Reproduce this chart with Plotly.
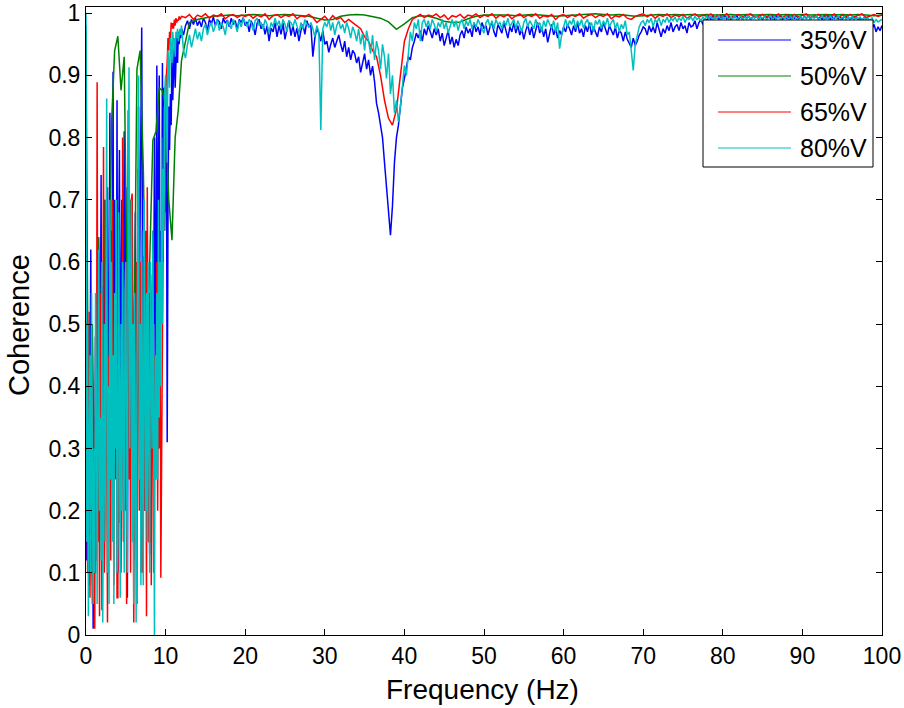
import numpy as np
import plotly.graph_objects as go

# Coherence values are listed in thousandths (e.g. 985 -> 0.985).

# Frequency grids (Hz)
f_low = np.round(np.arange(0.0, 12.0001, 0.1), 2)        # 0 .. 12 Hz, 0.1 Hz bins
f_high_q = np.round(np.arange(12.25, 100.0001, 0.25), 2)  # 12.25 .. 100 Hz, 0.25 Hz bins
f_high_h = np.round(np.arange(12.5, 100.0001, 0.5), 2)    # 12.5 .. 100 Hz, 0.5 Hz bins
f_green_low = np.round(np.arange(0.0, 12.0001, 0.4), 2)
f_green_high = np.arange(13.0, 100.0001, 1.0)

# ---- 35%V ----
blue_low = [250, 120, 400, 210, 500, 380, 620, 150, 300, 10,
            350, 220, 480, 120, 520, 300, 610, 200, 450, 740,
            80, 560, 330, 700, 180, 650, 420, 720, 150, 600,
            840, 400, 650, 500, 906, 250, 700, 520, 380, 860,
            100, 620, 780, 350, 560, 700, 300, 550, 810, 200,
            720, 450, 60, 600, 380, 650, 300, 550, 700, 420,
            120, 500, 680, 250, 580, 400, 850, 520, 720, 960,
            977, 600, 450, 610, 200, 480, 300, 600, 420, 550,
            130, 580, 470, 350, 650, 500, 800, 380, 620, 916,
            550, 750, 900, 480, 650, 560, 920, 600, 880, 700,
            680, 850, 310, 680, 850, 780, 870, 820, 930, 860,
            900, 950, 880, 930, 960, 920, 970, 950, 965, 960,
            975]
blue_high = [965, 980, 988, 975, 990, 982, 992, 980,
             988, 978, 992, 985, 972, 990, 983, 994,
             980, 990, 986, 975, 992, 984, 989, 978,
             992, 982, 988, 974, 990, 985, 993, 980,
             986, 970, 988, 980, 965, 984, 990, 975,
             982, 966, 980, 955, 976, 970, 985, 962,
             980, 966, 984, 958, 975, 988, 964, 980,
             962, 976, 955, 972, 982, 966, 988, 978,
             980, 930, 960, 975, 968, 955, 972, 950,
             955, 937, 950, 960, 945, 955, 965, 950,
             938, 955, 930, 945, 925, 940, 935, 920,
             930, 905, 920, 935, 910, 925, 900, 915,
             890, 855, 840, 820, 800, 760, 720, 680,
             643, 690, 760, 800, 820, 850, 880, 895,
             910, 930, 925, 945, 955, 968, 960, 972,
             955, 975, 965, 980, 970, 960, 975, 965,
             975, 955, 968, 948, 960, 972, 950, 962,
             945, 958, 948, 965, 972, 960, 978, 968,
             975, 962, 985, 970, 978, 965, 985, 975,
             980, 965, 978, 985, 970, 962, 982, 975,
             968, 985, 972, 960, 978, 970, 985, 968,
             980, 965, 975, 958, 972, 982, 965, 978,
             960, 975, 985, 968, 978, 962, 975, 953,
             970, 982, 965, 975, 960, 972, 965, 978,
             970, 982, 975, 965, 980, 970, 985, 968,
             975, 962, 980, 970, 985, 965, 978, 970,
             962, 978, 970, 985, 975, 965, 980, 972,
             965, 978, 960, 972, 968, 955, 970, 958,
             950, 945, 960, 948, 955, 965, 970, 978,
             975, 965, 980, 970, 978, 968, 985, 972,
             962, 975, 968, 980, 972, 985, 970, 978,
             982, 972, 985, 975, 980, 968, 985, 978,
             980, 988, 975, 985, 990, 982, 992, 988,
             994, 990, 996, 992, 995, 990, 994, 992,
             996, 991, 994, 990, 995, 993, 996, 991,
             994, 990, 996, 992, 995, 990, 994, 993,
             996, 991, 994, 990, 995, 992, 996, 991,
             994, 990, 995, 993, 996, 990, 994, 992,
             995, 990, 994, 992, 996, 991, 994, 990,
             995, 992, 996, 990, 994, 993, 995, 991,
             994, 990, 996, 992, 995, 990, 994, 992,
             996, 991, 994, 990, 995, 992, 994, 990,
             993, 991, 994, 990, 992, 988, 993, 990,
             985, 978, 975, 982, 970, 978, 972, 980]

# ---- 50%V ----
green_low = [980, 80, 500, 100, 640, 350, 700, 300, 820, 940,
             963, 876, 930, 500, 700, 415, 910, 940, 750, 450,
             600, 796, 810, 880, 875, 850, 700, 635, 800, 845,
             924]
green_high = [985, 990, 993, 995, 996, 997, 996, 997, 998, 997,
              996, 997, 998, 997, 996, 995, 992, 989, 990, 995,
              997, 998, 997, 995, 992, 986, 974, 983, 993, 996,
              995, 992, 987, 985, 986, 991, 995, 997,
              997, 998, 997, 996, 997, 998, 997, 996, 995, 996,
              997, 998, 999, 999, 998, 997, 998, 997, 995, 996,
              997, 998, 997, 998, 997, 998, 997, 998, 997, 998,
              998, 997, 998, 997, 998, 998, 997, 998, 997, 998,
              997, 998, 998, 997, 998, 997, 998, 997, 996, 997]

# ---- 65%V ----
red_low = [200, 450, 100, 350, 520, 60, 300, 150, 50, 400,
           250, 10, 480, 120, 889, 150, 420, 30, 550, 200,
           40, 380, 785, 100, 200, 600, 350, 20, 450, 150,
           450, 120, 520, 700, 300, 80, 550, 250, 600, 60,
           60, 650, 180, 420, 100, 300, 800, 150, 300, 550,
           600, 50, 350, 844, 250, 500, 100, 700, 710, 180,
           20, 450, 150, 600, 50, 750, 350, 200, 600, 100,
           600, 100, 380, 500, 200, 650, 30, 720, 350, 150,
           150, 550, 80, 400, 620, 100, 450, 250, 500, 600,
           200, 480, 300, 550, 92, 250, 550, 700, 850, 650,
           800, 900, 920, 960, 940, 970, 950, 985, 975, 984,
           975, 990, 980, 992, 985, 990, 988, 995, 990, 993,
           995]
red_high = [993, 998, 990, 997, 994, 999, 992, 997, 995, 999, 991, 996, 998, 993, 997, 995,
            998, 992, 997, 994, 999, 990, 996, 998, 993, 997, 995, 999, 991, 996, 994, 998,
            993, 985, 990, 995, 988, 996, 990, 993, 985, 990,
            985, 980, 975, 962, 955, 940, 930, 900, 860, 831,
            820, 845, 900, 955, 975, 990, 994, 998, 993, 997,
            995, 999, 993, 997, 990, 996, 994, 998, 992, 997, 995, 999, 993, 997,
            995, 999, 992, 997, 994, 998, 991, 996, 999, 993,
            997, 995, 999, 992, 996, 994, 998, 990, 996, 998,
            993, 997, 995, 999, 992, 996, 998, 993, 997, 995,
            999, 991, 996, 994, 998, 992, 990, 995, 997, 999,
            994, 998, 992, 997, 995, 999, 993, 997, 995, 998, 992, 996, 999, 994,
            997, 995, 999, 993, 997, 995, 999, 992, 996, 998,
            994, 997, 999, 993, 996, 998, 994, 997, 995, 999,
            993, 997, 995, 998, 994, 997, 999, 993, 996, 998,
            994, 997, 995, 999, 993, 997, 995, 998, 994, 997,
            999, 993, 996, 998, 995, 997]

# ---- 80%V ----
cyan_low = [1000, 150, 500, 30, 300, 450, 100, 550, 250, 50,
            300, 100, 550, 400, 50, 450, 620, 200, 350, 120,
            600, 20, 300, 500, 150, 700, 863, 100, 400, 50,
            700, 250, 600, 150, 450, 50, 550, 300, 700, 100,
            150, 680, 400, 60, 500, 200, 600, 350, 100, 550,
            600, 250, 100, 700, 913, 300, 450, 700, 150, 500,
            50, 550, 300, 20, 400, 650, 900, 250, 500, 80,
            650, 300, 80, 700, 450, 200, 550, 150, 600, 350,
            100, 600, 400, 300, 650, 200, 0, 450, 250, 550,
            250, 700, 350, 600, 400, 800, 500, 750, 650, 880,
            900, 850, 760, 940, 920, 880, 960, 950, 920, 970,
            950, 960, 930, 970, 960, 975, 955, 965, 975, 965,
            980]
cyan_high = [940, 928, 950, 965, 945, 960, 975, 958,
             970, 955, 975, 982, 965, 978, 985, 970,
             980, 990, 972, 985, 978, 965, 988, 980,
             975, 990, 982, 970, 988, 978, 992, 985,
             978, 990, 985, 972, 988, 992, 980, 985,
             975, 990, 982, 968, 985, 978, 992, 980,
             988, 975, 990, 982, 970, 988, 985, 978,
             990, 980, 968, 985, 975, 990, 982, 978,
             985, 975, 962, 980, 970, 812, 975, 985,
             978, 990, 972, 985, 965, 980, 988, 975,
             982, 968, 985, 975, 960, 978, 970, 955,
             975, 950, 968, 940, 972, 955, 935, 965,
             925, 955, 940, 910, 950, 930, 895, 935,
             870, 900, 840, 860, 825, 850, 880, 916,
             900, 940, 970, 955, 985, 975, 990, 955,
             985, 990, 978, 988, 975, 990, 982, 970,
             985, 978, 990, 975, 985, 968, 980, 990,
             978, 988, 972, 985, 990, 975, 988, 980,
             990, 975, 985, 978, 990, 982, 975, 968,
             985, 990, 978, 988, 975, 990, 982, 985,
             975, 988, 980, 992, 978, 985, 990, 975,
             988, 980, 970, 985, 992, 978, 988, 982,
             975, 990, 980, 985, 970, 988, 978, 990,
             982, 975, 988, 970, 985, 943, 965, 980,
             990, 978, 988, 982, 992, 975, 988, 980,
             990, 976, 985, 990, 978, 985, 970, 988,
             982, 990, 975, 988, 980, 992, 978, 985,
             990, 975, 985, 970, 982, 975, 988, 965,
             970, 940, 908, 950, 965, 978, 985, 988,
             980, 990, 985, 992, 978, 990, 985, 993,
             980, 990, 986, 994, 985, 992, 988, 994,
             986, 993, 988, 995, 985, 992, 990, 994,
             988, 995, 990, 993, 987, 994, 990, 995,
             991, 995, 989, 994, 992, 996, 990, 994,
             992, 995, 990, 994, 991, 996, 990, 993,
             995, 990, 994, 991, 995, 989, 994, 992,
             996, 990, 994, 992, 995, 990, 993, 996,
             990, 994, 991, 995, 990, 994, 992, 995,
             989, 994, 991, 996, 990, 993, 995, 990,
             994, 991, 995, 990, 994, 992, 996, 990,
             993, 995, 990, 994, 991, 995, 990, 994,
             992, 996, 990, 993, 995, 990, 994, 991,
             995, 990, 993, 991, 994, 989, 993, 990,
             992, 988, 993, 985, 990, 986, 988, 990]

series = [
    ("35%V", np.concatenate([f_low, f_high_q]), blue_low + blue_high, "#0000FF"),
    ("50%V", np.concatenate([f_green_low, f_green_high]), green_low + green_high, "#008000"),
    ("65%V", np.concatenate([f_low, f_high_h]), red_low + red_high, "#FF0000"),
    ("80%V", np.concatenate([f_low, f_high_q]), cyan_low + cyan_high, "#00BFBF"),
]

for name, fx, fy, _ in series:
    assert len(fx) == len(fy), (name, len(fx), len(fy))

FONT = "Liberation Sans, Arial, sans-serif"
W, H = 904, 708
L, R, T, B = 86, 22, 7, 73
PW, PH = W - L - R, H - T - B


def px_x(p):
    return (p - L) / PW


def px_y(p):
    return (H - B - p) / PH


fig = go.Figure()
for name, fx, fy, color in series:
    fig.add_trace(go.Scatter(x=fx, y=np.array(fy) / 1000.0, mode="lines", name=name,
                             line=dict(color=color, width=1.5)))

axis_common = dict(showline=True, linecolor="black", linewidth=1, mirror="ticks",
                   ticks="inside", ticklen=6, tickcolor="black", showgrid=False,
                   zeroline=False, automargin=False,
                   tickfont=dict(family=FONT, size=23, color="black"))

fig.update_xaxes(range=[0, 100], tick0=0, dtick=10, **axis_common)
fig.update_yaxes(range=[0, 1.01], tick0=0, dtick=0.1, **axis_common)

shapes = []
annotations = []

# Legend box
shapes.append(dict(type="rect", xref="paper", yref="paper", layer="above",
                   x0=px_x(703), x1=px_x(873), y0=px_y(167), y1=px_y(20),
                   line=dict(color="black", width=1), fillcolor="white"))
for i, (name, _, _, color) in enumerate(series):
    yy = px_y(40 + 36 * i)
    shapes.append(dict(type="line", xref="paper", yref="paper", layer="above",
                       x0=px_x(718), x1=px_x(791), y0=yy, y1=yy,
                       line=dict(color=color, width=1)))
    annotations.append(dict(text=name, xref="paper", yref="paper", x=px_x(798), y=yy,
                            xanchor="left", yanchor="middle", showarrow=False,
                            font=dict(family=FONT, size=25, color="black")))

# Axis titles
annotations.append(dict(text="Frequency (Hz)", xref="paper", yref="paper",
                        x=px_x(482), y=px_y(689), xanchor="center", yanchor="middle",
                        showarrow=False, font=dict(family=FONT, size=28, color="black")))
annotations.append(dict(text="Coherence", xref="paper", yref="paper",
                        x=px_x(19), y=px_y(325), xanchor="center", yanchor="middle",
                        textangle=-90, showarrow=False,
                        font=dict(family=FONT, size=29, color="black")))

fig.update_layout(width=W, height=H, margin=dict(l=L, r=R, t=T, b=B),
                  plot_bgcolor="white", paper_bgcolor="white", showlegend=False,
                  font=dict(family=FONT, color="black"),
                  shapes=shapes, annotations=annotations)

fig.write_html("out.html")
